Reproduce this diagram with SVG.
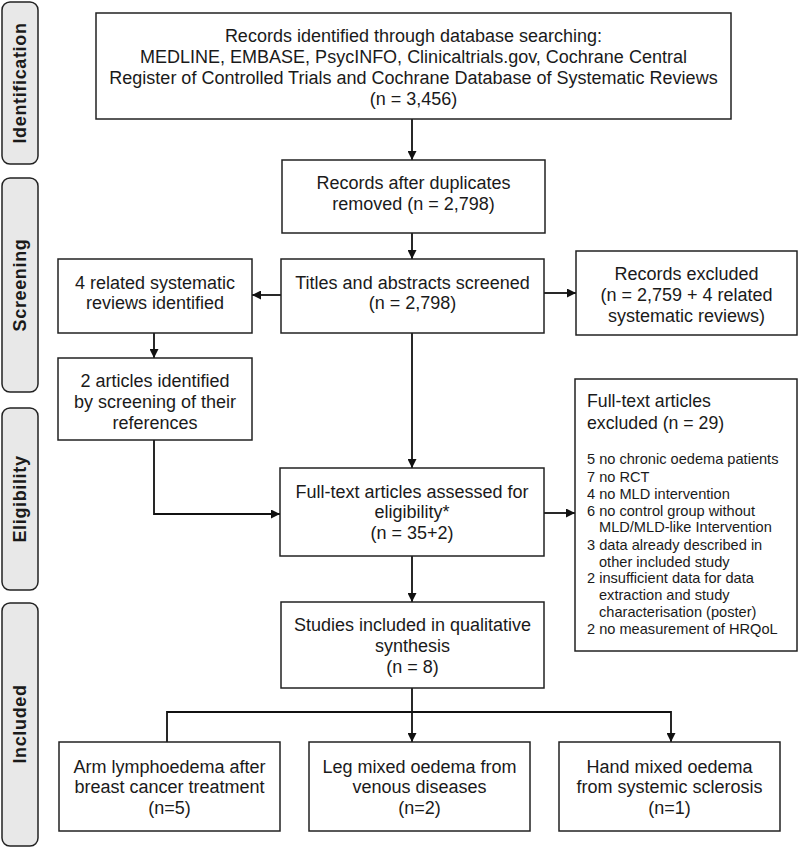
<svg xmlns="http://www.w3.org/2000/svg" width="798" height="847" viewBox="0 0 798 847">
<style>
.box{fill:#fff;stroke:#222;stroke-width:1.5}
.side{fill:#e8e8e8;stroke:#222;stroke-width:1.5}
text{font-family:"Liberation Sans",Arial,sans-serif;fill:#1a1a1a}
.t{font-size:18px;text-anchor:middle}
.l{font-size:17.7px}
.s{font-size:14.6px}
.lab{font-size:18px;font-weight:bold;text-anchor:middle;letter-spacing:0.65px}
.c{fill:none;stroke:#111;stroke-width:1.8}
</style>
<defs>
<marker id="ah" viewBox="0 0 10 10" refX="10" refY="5" markerWidth="9" markerHeight="9" markerUnits="userSpaceOnUse" orient="auto">
<path d="M0,0 L10,5 L0,10 z" fill="#111"/>
</marker>
</defs>
<g id="phase-identification"><rect class="side" x="2" y="2" width="36" height="162" rx="8"/><text class="lab" transform="translate(26,83) rotate(-90)">Identification</text></g>
<g id="phase-screening"><rect class="side" x="2" y="178" width="36" height="214" rx="8"/><text class="lab" transform="translate(26,285) rotate(-90)">Screening</text></g>
<g id="phase-eligibility"><rect class="side" x="2" y="408" width="36" height="182" rx="8"/><text class="lab" transform="translate(26,499) rotate(-90)">Eligibility</text></g>
<g id="phase-included"><rect class="side" x="2" y="603" width="36" height="243" rx="8"/><text class="lab" transform="translate(26,724) rotate(-90)">Included</text></g>

<g id="connectors">
<line class="c" x1="412" y1="119" x2="412" y2="160" marker-end="url(#ah)"/>
<line class="c" x1="412" y1="233" x2="412" y2="259" marker-end="url(#ah)"/>
<line class="c" x1="281" y1="295" x2="252" y2="295" marker-end="url(#ah)"/>
<line class="c" x1="544" y1="293" x2="576" y2="293" marker-end="url(#ah)"/>
<line class="c" x1="154" y1="333" x2="154" y2="358" marker-end="url(#ah)"/>
<polyline class="c" points="154,440 154,514 280,514" marker-end="url(#ah)"/>
<line class="c" x1="412" y1="333" x2="412" y2="468" marker-end="url(#ah)"/>
<line class="c" x1="544" y1="513" x2="575" y2="513" marker-end="url(#ah)"/>
<line class="c" x1="412" y1="556" x2="412" y2="602" marker-end="url(#ah)"/>
<line class="c" x1="412" y1="688" x2="412" y2="742" marker-end="url(#ah)"/>
<polyline class="c" points="167,742 167,712 671,712 671,742" marker-end="url(#ah)"/>
</g>

<g id="n-records-identified"><rect class="box" x="96" y="13" width="635" height="106"/>
<text class="t" x="413.5" y="42">Records identified through database searching:</text>
<text class="t" x="413.5" y="63">MEDLINE, EMBASE, PsycINFO, Clinicaltrials.gov, Cochrane Central</text>
<text class="t" x="413.5" y="84">Register of Controlled Trials and Cochrane Database of Systematic Reviews</text>
<text class="t" x="413.5" y="105">(n = 3,456)</text></g>

<g id="n-after-duplicates"><rect class="box" x="282" y="160" width="263" height="73"/>
<text class="t" x="413.5" y="189">Records after duplicates</text>
<text class="t" x="413.5" y="210">removed (n = 2,798)</text></g>

<g id="n-titles"><rect class="box" x="281" y="259" width="263" height="74"/>
<text class="t" x="412.5" y="289">Titles and abstracts screened</text>
<text class="t" x="412.5" y="309">(n = 2,798)</text></g>

<g id="n-related-reviews"><rect class="box" x="58" y="259" width="194" height="74"/>
<text class="t" x="155" y="289">4 related systematic</text>
<text class="t" x="155" y="309">reviews identified</text></g>

<g id="n-records-excluded"><rect class="box" x="576" y="251" width="221" height="84"/>
<text class="t" x="686.5" y="280">Records excluded</text>
<text class="t" x="686.5" y="301">(n = 2,759 + 4 related</text>
<text class="t" x="686.5" y="322">systematic reviews)</text></g>

<g id="n-two-articles"><rect class="box" x="58" y="358" width="194" height="82"/>
<text class="t" x="155" y="387">2 articles identified</text>
<text class="t" x="155" y="408">by screening of their</text>
<text class="t" x="155" y="429">references</text></g>

<g id="n-fulltext-assessed"><rect class="box" x="280" y="468" width="264" height="88"/>
<text class="t" x="412" y="498">Full-text articles assessed for</text>
<text class="t" x="412" y="518">eligibility*</text>
<text class="t" x="412" y="539">(n = 35+2)</text></g>

<g id="n-fulltext-excluded"><rect class="box" x="575" y="379" width="222" height="272"/>
<text class="l" x="587" y="407">Full-text articles</text>
<text class="l" x="587" y="429">excluded (n = 29)</text>
<text class="s" x="587" y="464">5 no chronic oedema patients</text>
<text class="s" x="587" y="482">7 no RCT</text>
<text class="s" x="587" y="499">4 no MLD intervention</text>
<text class="s" x="587" y="516">6 no control group without</text>
<text class="s" x="599" y="532">MLD/MLD-like Intervention</text>
<text class="s" x="587" y="550">3 data already described in</text>
<text class="s" x="599" y="567">other included study</text>
<text class="s" x="587" y="583">2 insufficient data for data</text>
<text class="s" x="599" y="600">extraction and study</text>
<text class="s" x="599" y="617">characterisation (poster)</text>
<text class="s" x="587" y="634">2 no measurement of HRQoL</text></g>

<g id="n-studies-included"><rect class="box" x="281" y="602" width="263" height="86"/>
<text class="t" x="412.5" y="631">Studies included in qualitative</text>
<text class="t" x="412.5" y="652">synthesis</text>
<text class="t" x="412.5" y="673">(n = 8)</text></g>

<g id="n-arm"><rect class="box" x="59" y="742" width="221" height="89"/>
<text class="t" x="169.5" y="773">Arm lymphoedema after</text>
<text class="t" x="169.5" y="793">breast cancer treatment</text>
<text class="t" x="169.5" y="814">(n=5)</text></g>

<g id="n-leg"><rect class="box" x="309" y="742" width="221" height="89"/>
<text class="t" x="419.5" y="773">Leg mixed oedema from</text>
<text class="t" x="419.5" y="793">venous diseases</text>
<text class="t" x="419.5" y="814">(n=2)</text></g>

<g id="n-hand"><rect class="box" x="559" y="742" width="221" height="89"/>
<text class="t" x="669.5" y="773">Hand mixed oedema</text>
<text class="t" x="669.5" y="793">from systemic sclerosis</text>
<text class="t" x="669.5" y="814">(n=1)</text></g>
</svg>
